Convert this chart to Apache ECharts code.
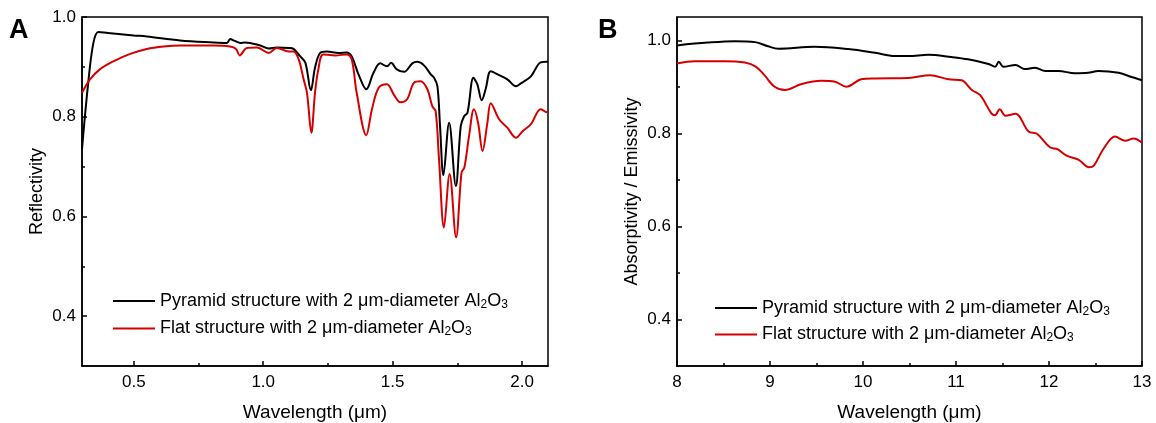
<!DOCTYPE html>
<html>
<head>
<meta charset="utf-8">
<script src="https://cdn.jsdelivr.net/npm/echarts@6/dist/echarts.min.js"></script>
<style>
html,body{margin:0;padding:0;background:#fff;}
#c{width:1156px;height:423px;}
</style>
</head>
<body>
<div id="c"></div>
<script>
// ---------- Panel A: Reflectivity (0.3 - 2.1 um) ----------
const aPyrX = [0.300,0.324,0.344,0.363,0.400,0.500,0.550,0.679,0.808,0.860,0.872,0.890,0.911,0.930,0.988,1.021,1.053,1.098,1.117,1.143,1.163,1.184,1.200,1.220,1.246,1.291,1.323,1.342,1.368,1.398,1.426,1.452,1.478,1.494,1.516,1.544,1.576,1.595,1.621,1.647,1.660,1.673,1.683,1.696,1.718,1.744,1.763,1.776,1.789,1.812,1.827,1.844,1.859,1.879,1.905,1.943,1.976,1.995,2.034,2.066,2.092,2.100];
const aPyrY = [0.735,0.868,0.948,0.970,0.968,0.963,0.961,0.953,0.949,0.948,0.956,0.952,0.948,0.949,0.943,0.937,0.939,0.938,0.936,0.921,0.908,0.853,0.898,0.928,0.931,0.928,0.929,0.921,0.885,0.855,0.888,0.907,0.901,0.908,0.895,0.890,0.907,0.910,0.903,0.885,0.878,0.861,0.781,0.683,0.788,0.661,0.781,0.801,0.808,0.878,0.865,0.833,0.855,0.891,0.885,0.875,0.861,0.867,0.881,0.907,0.910,0.910];
const aFlatX = [0.300,0.331,0.369,0.421,0.486,0.550,0.615,0.679,0.744,0.808,0.872,0.895,0.909,0.937,0.976,1.021,1.053,1.098,1.117,1.137,1.156,1.169,1.186,1.200,1.213,1.232,1.278,1.323,1.342,1.361,1.398,1.420,1.446,1.478,1.504,1.530,1.556,1.582,1.608,1.634,1.653,1.666,1.679,1.698,1.720,1.745,1.766,1.777,1.795,1.814,1.830,1.847,1.866,1.879,1.911,1.943,1.976,2.002,2.034,2.072,2.098,2.100];
const aFlatY = [0.848,0.875,0.895,0.911,0.926,0.936,0.941,0.943,0.943,0.943,0.941,0.936,0.923,0.938,0.939,0.928,0.938,0.931,0.931,0.915,0.875,0.848,0.768,0.848,0.895,0.925,0.923,0.925,0.915,0.848,0.763,0.815,0.858,0.865,0.845,0.829,0.835,0.868,0.871,0.855,0.821,0.811,0.715,0.578,0.685,0.558,0.688,0.698,0.761,0.815,0.788,0.731,0.788,0.827,0.795,0.778,0.758,0.771,0.785,0.815,0.809,0.809];

// ---------- Panel B: Absorptivity / Emissivity (8 - 13 um) ----------
const bPyrX = [8.00,8.33,8.62,8.84,8.98,9.09,9.48,9.84,10.13,10.34,10.49,10.70,10.95,11.13,11.35,11.42,11.46,11.51,11.64,11.74,11.85,11.96,12.10,12.28,12.42,12.53,12.75,12.89,13.00];
const bPyrY = [0.989,0.995,0.998,0.996,0.987,0.982,0.986,0.981,0.973,0.966,0.966,0.969,0.964,0.959,0.949,0.943,0.954,0.943,0.947,0.938,0.941,0.934,0.934,0.929,0.930,0.934,0.930,0.921,0.914];
const bFlatX = [8.00,8.19,8.51,8.73,8.85,8.94,9.05,9.16,9.34,9.55,9.70,9.82,9.98,10.13,10.49,10.72,10.92,11.06,11.17,11.26,11.38,11.42,11.47,11.53,11.64,11.78,11.87,12.01,12.09,12.19,12.32,12.43,12.48,12.59,12.71,12.82,12.91,13.00];
const bFlatY = [0.950,0.955,0.955,0.952,0.943,0.925,0.900,0.893,0.906,0.913,0.911,0.900,0.916,0.918,0.919,0.925,0.916,0.914,0.893,0.882,0.843,0.839,0.852,0.838,0.842,0.804,0.799,0.770,0.766,0.752,0.743,0.727,0.730,0.768,0.793,0.784,0.789,0.780];

// ---------- Axis ticks / labels ----------
const aXLabels = [0.5, 1.0, 1.5, 2.0];
const aXMinor = [0.75, 1.25, 1.75];
const aYLabels = [0.4, 0.6, 0.8, 1.0];
const aYMinor = [0.5, 0.7, 0.9];
const bXLabels = [8, 9, 10, 11, 12, 13];
const bXMinor = [8.5, 9.5, 10.5, 11.5, 12.5];
const bYLabels = [0.4, 0.6, 0.8, 1.0];
const bYMinor = [0.5, 0.7, 0.9];

const nameP = 'Pyramid structure with 2 μm-diameter Al2O3';
const nameF = 'Flat structure with 2 μm-diameter Al2O3';

const zip = (xs, ys) => xs.map((x, i) => [x, ys[i]]);
const FONT = 'Liberation Sans, Arial, sans-serif';
const FS = 17;

function mainX(grid, min, max, labels, name, fmt) {
  return {
    type: 'value', gridIndex: grid, min: min, max: max,
    name: name, nameLocation: 'middle', nameGap: 37,
    nameTextStyle: {fontFamily: FONT, fontSize: 19, color: '#000'},
    axisLine: {show: true, lineStyle: {color: '#000', width: 1.5}},
    axisTick: {show: true, inside: true, length: 5, customValues: labels, lineStyle: {color: '#000', width: 1.5}},
    axisLabel: {show: true, customValues: labels, formatter: fmt, fontFamily: FONT, fontSize: FS, color: '#000', margin: 8},
    splitLine: {show: false}
  };
}
function minorX(grid, min, max, vals) {
  return {
    type: 'value', gridIndex: grid, min: min, max: max, position: 'bottom',
    axisLine: {show: false},
    axisTick: {show: true, inside: true, length: 3, customValues: vals, lineStyle: {color: '#000', width: 1.5}},
    axisLabel: {show: false}, splitLine: {show: false}
  };
}
function mainY(grid, min, max, labels, name) {
  return {
    type: 'value', gridIndex: grid, min: min, max: max,
    name: name, nameLocation: 'middle', nameGap: 36,
    nameTextStyle: {fontFamily: FONT, fontSize: 18, color: '#000'},
    axisLine: {show: true, lineStyle: {color: '#000', width: 1.5}},
    axisTick: {show: true, inside: true, length: 5, customValues: labels, lineStyle: {color: '#000', width: 1.5}},
    axisLabel: {show: true, customValues: labels, formatter: v => v.toFixed(1), fontFamily: FONT, fontSize: FS, color: '#000', margin: 6},
    splitLine: {show: false}
  };
}
function minorY(grid, min, max, vals) {
  return {
    type: 'value', gridIndex: grid, min: min, max: max, position: 'left',
    axisLine: {show: false},
    axisTick: {show: true, inside: true, length: 3, customValues: vals, lineStyle: {color: '#000', width: 1.5}},
    axisLabel: {show: false}, splitLine: {show: false}
  };
}
const legendText = n => n.replace('Al2O3', 'Al{s|2}O{s|3}');
const legendRich = {s: {fontSize: 12, fontFamily: FONT, color: '#000', padding: [7, 0, 0, 0]}};
function legend(left, top, gap) {
  return {
    orient: 'vertical', left: left, top: top, padding: 0, itemWidth: 42, itemHeight: 14, itemGap: gap,
    data: [nameP, nameF], formatter: legendText,
    itemStyle: {opacity: 0},
    textStyle: {fontFamily: FONT, fontSize: 18, color: '#000', rich: legendRich},
    selectedMode: false
  };
}
function line(name, xi, yi, data, color) {
  return {
    type: 'line', name: name, xAxisIndex: xi, yAxisIndex: yi, data: data,
    showSymbol: false, symbol: 'none', smooth: 0.35,
    lineStyle: {color: color, width: 2}, itemStyle: {color: color}, animation: false
  };
}

const chart = echarts.init(document.getElementById('c'), null, {renderer: 'canvas'});
chart.setOption({
  animation: false,
  backgroundColor: '#fff',
  grid: [
    {left: 82, top: 17, width: 466, height: 349, outerBoundsMode: 'none', containLabel: false, show: true, borderColor: '#000', borderWidth: 1.5, backgroundColor: 'transparent'},
    {left: 677, top: 17, width: 465, height: 349, outerBoundsMode: 'none', containLabel: false, show: true, borderColor: '#000', borderWidth: 1.5, backgroundColor: 'transparent'}
  ],
  xAxis: [
    mainX(0, 0.3, 2.1, aXLabels, 'Wavelength (μm)', v => v.toFixed(1)),
    minorX(0, 0.3, 2.1, aXMinor),
    mainX(1, 8, 13, bXLabels, 'Wavelength (μm)', v => String(v)),
    minorX(1, 8, 13, bXMinor)
  ],
  yAxis: [
    mainY(0, 0.3, 1.0, aYLabels, 'Reflectivity'),
    minorY(0, 0.3, 1.0, aYMinor),
    mainY(1, 0.3, 1.05, bYLabels, 'Absorptivity / Emissivity'),
    minorY(1, 0.3, 1.05, bYMinor)
  ],
  legend: [legend(112, 292, 9), legend(714, 299, 8)],
  title: [
    {text: 'A', left: 9, top: 17, padding: 0, textStyle: {fontFamily: FONT, fontSize: 27, fontWeight: 'bold', color: '#000'}},
    {text: 'B', left: 598, top: 17, padding: 0, textStyle: {fontFamily: FONT, fontSize: 27, fontWeight: 'bold', color: '#000'}}
  ],
  series: [
    line(nameP, 0, 0, zip(aPyrX, aPyrY), '#000000'),
    line(nameF, 0, 0, zip(aFlatX, aFlatY), '#d40000'),
    line(nameP, 2, 2, zip(bPyrX, bPyrY), '#000000'),
    line(nameF, 2, 2, zip(bFlatX, bFlatY), '#d40000')
  ]
});
</script>
</body>
</html>
